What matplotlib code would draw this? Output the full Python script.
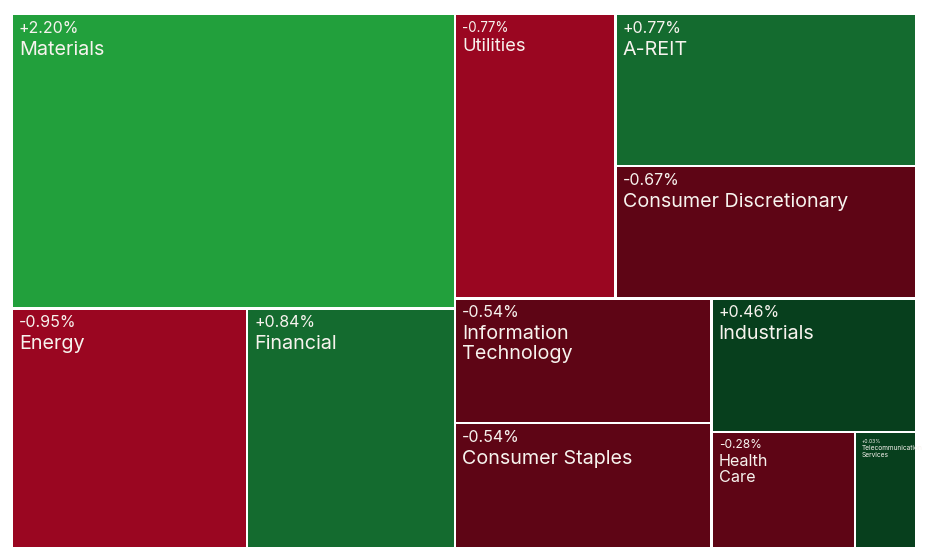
import matplotlib.pyplot as plt
from matplotlib.patches import Rectangle

plt.rcParams["font.family"] = ["Inter", "DejaVu Sans"]

# sectors in layout order (sized by absolute move, small ones floored)
sectors = [
    "Materials", "Energy", "Financial", "Utilities", "A-REIT",
    "Consumer Discretionary", "Information\nTechnology", "Consumer Staples",
    "Industrials", "Health\nCare", "Telecommunication\nServices",
]
changes = [2.20, -0.95, 0.84, -0.77, 0.77, -0.67, -0.54, -0.54, 0.46, -0.28, 0.03]
weights = [2.20, 0.95, 0.84, 0.77, 0.77, 0.67, 0.54, 0.54, 0.46, 0.28, 0.12]


def change_color(c):
    if c >= 1.5:
        return "#22A03C"
    if c >= 0.75:
        return "#146B2F"
    if c >= 0:
        return "#073F1D"
    if c > -0.75:
        return "#5E0515"
    return "#9A0621"


def binary_layout(values, x0, y0, x1, y1):
    # same split rule as d3.treemapBinary
    sums = [0.0]
    for v in values:
        sums.append(sums[-1] + v)
    rects = [None] * len(values)

    def part(i, j, value, x0, y0, x1, y1):
        if i >= j - 1:
            rects[i] = (x0, y0, x1, y1)
            return
        offset = sums[i]
        target = value / 2 + offset
        k, hi = i + 1, j - 1
        while k < hi:
            mid = (k + hi) // 2
            if sums[mid] < target:
                k = mid + 1
            else:
                hi = mid
        if (target - sums[k - 1]) < (sums[k] - target) and i + 1 < k:
            k -= 1
        vl = sums[k] - offset
        vr = value - vl
        if (x1 - x0) > (y1 - y0):
            xk = (x0 * vr + x1 * vl) / value
            part(i, k, vl, x0, y0, xk, y1)
            part(k, j, vr, xk, y0, x1, y1)
        else:
            yk = (y0 * vr + y1 * vl) / value
            part(i, k, vl, x0, y0, x1, yk)
            part(k, j, vr, x0, yk, x1, y1)

    part(0, len(values), sums[-1], x0, y0, x1, y1)
    return rects


fig = plt.figure(figsize=(9.26, 5.58), dpi=100)
ax = fig.add_axes([0, 0, 1, 1])
ax.set_xlim(0, 926)
ax.set_ylim(558, 0)
ax.axis("off")

# layout is worked out on a taller canvas, then squeezed to fit
X0, Y0, X1, Y1 = 12, 14, 916, 548
stretch = 1.3
rects = binary_layout(weights, X0, Y0, X1, Y0 + (Y1 - Y0) * stretch)

gap = 1.2
px_per_pt = 100 / 72
txt = "#F7F3EE"
for name, c, (x0, y0, x1, y1) in zip(sectors, changes, rects):
    y0 = Y0 + (y0 - Y0) / stretch
    y1 = Y0 + (y1 - Y0) / stretch
    w = x1 - x0
    patch = Rectangle((x0 + gap, y0 + gap), w - 2 * gap, y1 - y0 - 2 * gap,
                      facecolor=change_color(c), edgecolor="none")
    ax.add_patch(patch)
    name_size = min(14.2, 0.085 * w - 0.5)
    pct_size = min(11.5, 0.06 * w)
    t1 = ax.text(x0 + 7, y0 + 7, f"{c:+.2f}%", color=txt, fontsize=pct_size,
                 ha="left", va="top")
    t2 = ax.text(x0 + 7, y0 + 7 + pct_size * px_per_pt * 1.25, name, color=txt,
                 fontsize=name_size, ha="left", va="top", linespacing=1.1)
    t1.set_clip_path(patch)
    t2.set_clip_path(patch)

fig.savefig("out.png", dpi=100, facecolor="white")
